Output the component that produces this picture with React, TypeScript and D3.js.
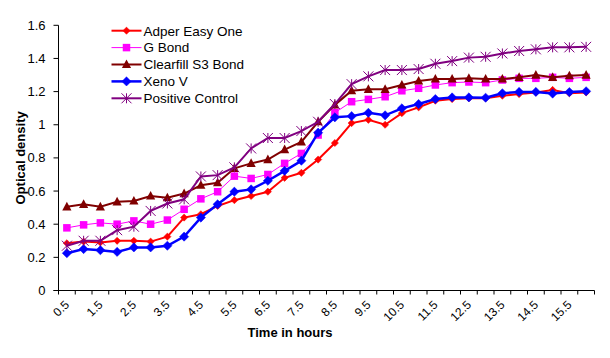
import React from "react";
import * as d3 from "d3";

const hours = Array.from({ length: 32 }, (_, i) => ((i + 1) * 0.5).toString());
const labelHours = ["0.5","1.5","2.5","3.5","4.5","5.5","6.5","7.5","8.5","9.5","10.5","11.5","12.5","13.5","14.5","15.5"];
const yTicks = [0, 0.2, 0.4, 0.6, 0.8, 1, 1.2, 1.4, 1.6];

const adper = [0.285, 0.295, 0.29, 0.30, 0.30, 0.295, 0.325, 0.44, 0.46, 0.51, 0.545, 0.57, 0.596, 0.68, 0.71, 0.79, 0.89, 1.01, 1.03, 1.0, 1.07, 1.105, 1.145, 1.155, 1.16, 1.16, 1.175, 1.185, 1.195, 1.21, 1.19, 1.195];
const gBond = [0.378, 0.396, 0.408, 0.40, 0.42, 0.40, 0.425, 0.49, 0.553, 0.596, 0.69, 0.676, 0.70, 0.767, 0.827, 0.938, 1.073, 1.139, 1.153, 1.169, 1.205, 1.22, 1.24, 1.254, 1.258, 1.254, 1.27, 1.28, 1.28, 1.286, 1.28, 1.286];
const clearfill = [0.505, 0.52, 0.505, 0.535, 0.54, 0.57, 0.56, 0.585, 0.635, 0.65, 0.737, 0.767, 0.79, 0.85, 0.897, 1.018, 1.12, 1.205, 1.214, 1.214, 1.24, 1.264, 1.276, 1.276, 1.28, 1.276, 1.276, 1.286, 1.30, 1.286, 1.296, 1.30];
const xenoV = [0.225, 0.25, 0.243, 0.233, 0.26, 0.26, 0.27, 0.325, 0.44, 0.52, 0.596, 0.61, 0.662, 0.722, 0.783, 0.952, 1.045, 1.052, 1.072, 1.057, 1.099, 1.125, 1.155, 1.165, 1.165, 1.163, 1.19, 1.198, 1.198, 1.188, 1.197, 1.202];
const positive = [0.27, 0.30, 0.30, 0.364, 0.385, 0.48, 0.525, 0.55, 0.688, 0.696, 0.743, 0.857, 0.92, 0.92, 0.962, 1.018, 1.125, 1.245, 1.292, 1.33, 1.33, 1.336, 1.368, 1.384, 1.405, 1.41, 1.43, 1.445, 1.455, 1.467, 1.467, 1.47];

const seriesNames = ["Adper Easy One", "G Bond", "Clearfill S3 Bond", "Xeno V", "Positive Control"];
const seriesValues = [adper, gBond, clearfill, xenoV, positive];
const seriesColors = ["#FF0000", "#FF00FF", "#800000", "#0000FF", "#800080"];
const seriesWidths = [2, 1, 2, 2.5, 2];
const seriesMarkers = ["smallDiamond", "square", "triangle", "diamond", "star"];

const FONT = "'Liberation Sans', Arial, sans-serif";

function Marker({ type, x, y, color }: { type: string; x: number; y: number; color: string }) {
  if (type === "smallDiamond") {
    const r = 3.6;
    return <path d={`M${x},${y - r}L${x + r},${y}L${x},${y + r}L${x - r},${y}Z`} fill={color} stroke={color} strokeWidth={0.5} />;
  }
  if (type === "diamond") {
    const r = 4.6;
    return <path d={`M${x},${y - r}L${x + r},${y}L${x},${y + r}L${x - r},${y}Z`} fill={color} stroke={color} strokeWidth={0.5} />;
  }
  if (type === "square") {
    const s = 7.5;
    return <rect x={x - s / 2} y={y - s / 2} width={s} height={s} fill={color} />;
  }
  if (type === "triangle") {
    return <path d={`M${x},${y - 5}L${x + 4.6},${y + 3.6}L${x - 4.6},${y + 3.6}Z`} fill={color} />;
  }
  const r = 5;
  return (
    <path
      d={`M${x - r},${y - r}L${x + r},${y + r}M${x - r},${y + r}L${x + r},${y - r}M${x},${y - r}L${x},${y + r}`}
      stroke={color}
      strokeWidth={1}
      fill="none"
    />
  );
}

export default function App() {
  const W = 610, H = 358;
  const left = 58.5, right = 594.5, top = 25.3, bottom = 290.5;
  const x = d3.scaleBand<string>().domain(hours).range([left, right]).padding(0);
  const y = d3.scaleLinear().domain([0, 1.6]).range([bottom, top]);
  const line = d3
    .line<number>()
    .x((_, i) => (x(hours[i]) as number) + x.bandwidth() / 2)
    .y((d) => y(d));

  const boundaries = d3.range(hours.length + 1).map((i) => left + i * x.bandwidth());

  return (
    <svg width={W} height={H} style={{ position: "absolute", left: 0, top: 0, background: "#fff" }} fontFamily={FONT}>
      <rect x={0} y={0} width={W} height={H} fill="#fff" />
      {/* y axis */}
      <line x1={left} x2={left} y1={top} y2={bottom} stroke="#000" strokeWidth={1} />
      {yTicks.map((t) => (
        <g key={t}>
          <line x1={left - 5} x2={left} y1={y(t)} y2={y(t)} stroke="#000" />
          <text x={45.5} y={y(t) + 4.5} fontSize={13} textAnchor="end" fill="#000">
            {String(+t.toFixed(1))}
          </text>
        </g>
      ))}
      {/* x axis */}
      <line x1={left - 5} x2={right} y1={bottom} y2={bottom} stroke="#000" strokeWidth={1} />
      {boundaries.map((bx, i) => (
        <line key={i} x1={bx} x2={bx} y1={bottom} y2={bottom + 4} stroke="#000" />
      ))}
      {labelHours.map((h) => {
        const cx = (x(h) as number) + x.bandwidth() / 2;
        return (
          <text
            key={h}
            transform={`translate(${cx + 3},${bottom + 15}) rotate(-45)`}
            fontSize={12}
            textAnchor="end"
            fill="#000"
          >
            {h}
          </text>
        );
      })}
      <text x={290} y={337} fontSize={13} fontWeight="bold" textAnchor="middle" fill="#000">
        Time in hours
      </text>
      <text transform={`translate(25,${(top + bottom) / 2}) rotate(-90)`} fontSize={13} fontWeight="bold" textAnchor="middle" fill="#000">
        Optical density
      </text>
      {/* series */}
      {seriesValues.map((vals, si) => (
        <g key={seriesNames[si]}>
          <path d={line(vals) as string} fill="none" stroke={seriesColors[si]} strokeWidth={seriesWidths[si]} />
          {vals.map((v, i) => (
            <Marker
              key={i}
              type={seriesMarkers[si]}
              x={(x(hours[i]) as number) + x.bandwidth() / 2}
              y={y(v)}
              color={seriesColors[si]}
            />
          ))}
        </g>
      ))}
      {/* legend */}
      {seriesNames.map((n, si) => {
        const ly = 30.7 + si * 16.9;
        return (
          <g key={n}>
            <line x1={111.5} x2={141.5} y1={ly} y2={ly} stroke={seriesColors[si]} strokeWidth={seriesWidths[si]} />
            <Marker type={seriesMarkers[si]} x={126.5} y={ly} color={seriesColors[si]} />
            <text x={143.5} y={ly + 4.8} fontSize={13.5} fill="#000">
              {n}
            </text>
          </g>
        );
      })}
    </svg>
  );
}
